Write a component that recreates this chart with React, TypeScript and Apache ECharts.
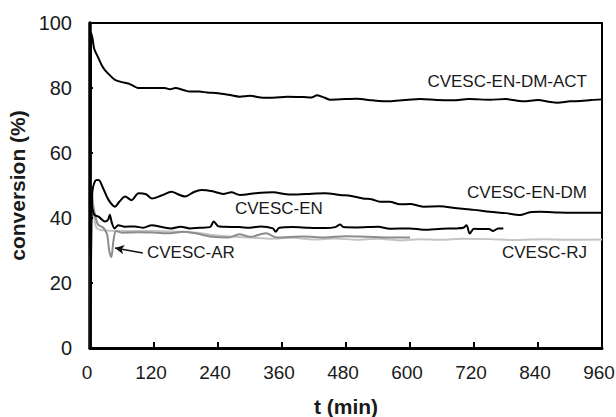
import React, { useEffect, useRef } from "react";
import * as echarts from "echarts";

// t (min), conversion (%)
const actData: number[][] = [
  [1, 0], [2, 97], [5, 95], [8, 92], [15, 89.5], [22, 87], [28, 85.5], [38, 83.8], [47, 82.5], [60, 81.8], [72, 81.4], [82, 80.6], [90, 80],
  [115, 80], [140, 80], [150, 79.6], [160, 80], [175, 79.4], [187, 78.9], [205, 78.9], [220, 78.6], [240, 78.4], [260, 77.9], [281, 77.3],
  [300, 77.6], [320, 77.1], [343, 77], [370, 77.3], [400, 77.2], [415, 77.1], [426, 77.8], [440, 77], [450, 76.4], [480, 76.6],
  [500, 76.7], [530, 76.2], [562, 75.9], [590, 76.3], [620, 76.6], [650, 76.3], [680, 76.2], [710, 76.6], [750, 76.4],
  [780, 76.6], [812, 75.9], [840, 76.3], [860, 75.8], [876, 75.5], [900, 75.9], [920, 76], [940, 76.3], [960, 76.5]
];
const enDmData: number[][] = [
  [1, 0], [4, 47], [10, 51.5], [16, 51.7], [25, 49], [35, 45.5], [47, 43.5], [55, 45], [66, 46.6], [78, 45.5], [91, 47.6],
  [105, 47.3], [116, 46], [135, 47], [153, 48.1], [165, 47.3], [178, 46.6], [195, 48], [209, 48.6], [230, 48.2], [250, 47.4],
  [265, 47.9], [281, 47.1], [310, 47.6], [343, 47.9], [375, 47.2], [406, 47.4], [440, 47.6], [469, 47.1], [490, 46.8],
  [512, 46], [528, 45.8], [544, 45], [562, 45], [581, 44.2], [600, 44.3], [625, 43.5], [655, 43.6], [688, 43], [720, 42.5],
  [750, 41.9], [780, 41.5], [806, 40.9], [825, 41.8], [844, 41.9], [880, 41.7], [920, 41.6], [960, 41.6]
];
const enData: number[][] = [
  [1, 0], [3, 44], [8, 41], [16, 40.4], [28, 38.9], [34, 39.5], [37, 41], [41, 38.5], [46, 36.8], [53, 37.8], [65, 37.3],
  [84, 37.4], [100, 37], [116, 37.8], [135, 37.2], [153, 36.8], [170, 37.3], [187, 36.8], [205, 37], [225, 37.2], [232, 38.9],
  [240, 37.5], [250, 37.3], [280, 37.2], [300, 37], [320, 37.4], [343, 36.8], [348, 35.8], [355, 37], [380, 37.2], [410, 37],
  [440, 36.9], [460, 37.2], [469, 38], [475, 37.2], [500, 37.1], [540, 37.3], [562, 36.7], [600, 36.8], [625, 36.4],
  [660, 36.7], [688, 36.8], [700, 37], [706, 37.8], [712, 35.2], [720, 36.7], [737, 36.6], [748, 36.6], [756, 36],
  [765, 36.8], [775, 36.8]
];
const arData: number[][] = [
  [1, 0], [3, 48], [8, 42], [15, 38], [25, 37], [32, 35], [36, 30], [40, 28], [44, 33], [49, 36], [60, 35.5], [90, 35.6],
  [120, 35.5], [150, 35.3], [175, 35.8], [200, 35.2], [230, 34.2], [260, 34], [280, 35], [300, 34.2], [330, 35.3],
  [350, 34], [400, 34.3], [440, 34], [480, 34.4], [520, 34.2], [560, 34], [600, 34]
];
const rjData: number[][] = [
  [1, 0], [3, 45], [8, 40], [12, 37], [20, 36.3], [60, 36], [120, 36], [200, 35.5], [230, 34.8], [270, 34.2], [300, 34],
  [340, 33.6], [380, 33.9], [420, 33.4], [460, 33.7], [500, 33.3], [540, 33.6], [580, 33.1], [620, 33.5], [660, 33.3],
  [700, 33.6], [750, 33.5], [800, 33.2], [850, 33.5], [900, 33.3], [960, 33.4]
];
const xTicks = { min: 0, max: 960, interval: 120 };
const yTicks = { min: 0, max: 100, interval: 20 };

const FONT = "Liberation Sans, Arial, sans-serif";

export default function App() {
  const ref = useRef<HTMLDivElement>(null);
  useEffect(() => {
    if (!ref.current) return;
    const chart = echarts.init(ref.current, undefined, { renderer: "svg" });
    const line = (name: string, data: number[][], color: string, extra: any = {}) => ({
      name,
      type: "line",
      data,
      showSymbol: false,
      smooth: 0.3,
      lineStyle: { color, width: 2 },
      itemStyle: { color },
      z: color === "#000" ? 3 : 2,
      ...extra,
    });
    const labelStyle = { fontFamily: FONT, fontSize: 17, fill: "#1a1a1a" };
    const frameAxis = {
      type: "value",
      axisLine: { show: true, onZero: false, lineStyle: { color: "#000", width: 2 } },
      axisTick: { show: false },
      axisLabel: { show: false },
      splitLine: { show: false },
    };
    chart.setOption({
      animation: false,
      backgroundColor: "#fff",
      grid: { left: 90, right: 14, top: 23, bottom: 69, outerBoundsMode: "none", containLabel: false },
      xAxis: [
        {
          type: "value",
          ...xTicks,
          name: "t (min)",
          nameLocation: "middle",
          nameGap: 48,
          nameTextStyle: { fontFamily: FONT, fontSize: 21, fontWeight: "bold", color: "#1a1a1a" },
          axisLine: { show: true, onZero: false, lineStyle: { color: "#000", width: 3 } },
          axisTick: { show: true, inside: true, length: 6, lineStyle: { color: "#000", width: 2 } },
          axisLabel: { fontFamily: FONT, fontSize: 19, color: "#1a1a1a", margin: 15, padding: [0, 6, 0, 0] },
          splitLine: { show: false },
        },
        { ...frameAxis, ...xTicks, position: "top" },
      ],
      yAxis: [
        {
          type: "value",
          ...yTicks,
          name: "conversion (%)",
          nameLocation: "middle",
          nameGap: 54,
          nameTextStyle: { fontFamily: FONT, fontSize: 21, fontWeight: "bold", color: "#1a1a1a" },
          axisLine: { show: true, onZero: false, lineStyle: { color: "#000", width: 3.5 } },
          axisTick: { show: true, inside: true, length: 3, lineStyle: { color: "#000", width: 2 } },
          axisLabel: { fontFamily: FONT, fontSize: 20, color: "#1a1a1a", margin: 18 },
          splitLine: { show: false },
        },
        { ...frameAxis, ...yTicks, position: "right" },
      ],
      series: [
        line("CVESC-RJ", rjData, "#c4c4c4"),
        line("CVESC-AR", arData, "#8c8c8c", {
          markLine: {
            silent: true,
            symbol: ["arrow", "none"],
            symbolSize: [7, 9],
            label: { show: false },
            lineStyle: { color: "#111", width: 1.5, type: "solid" },
            data: [[{ coord: [47, 30.8] }, { coord: [99, 29.2] }]],
          },
        }),
        line("CVESC-EN", enData, "#000"),
        line("CVESC-EN-DM", enDmData, "#000"),
        line("CVESC-EN-DM-ACT", actData, "#000"),
      ],
      graphic: [
        { type: "text", right: 616 - 587, top: 73, style: { ...labelStyle, text: "CVESC-EN-DM-ACT" } },
        { type: "text", right: 616 - 587, top: 184, style: { ...labelStyle, text: "CVESC-EN-DM" } },
        { type: "text", left: 235, top: 200, style: { ...labelStyle, text: "CVESC-EN" } },
        { type: "text", left: 147, top: 244, style: { ...labelStyle, text: "CVESC-AR" } },
        { type: "text", right: 616 - 587, top: 244, style: { ...labelStyle, text: "CVESC-RJ" } },
      ],
    });
    return () => chart.dispose();
  }, []);
  return <div ref={ref} style={{ width: 616, height: 417, position: "absolute", left: 0, top: 0 }} />;
}
